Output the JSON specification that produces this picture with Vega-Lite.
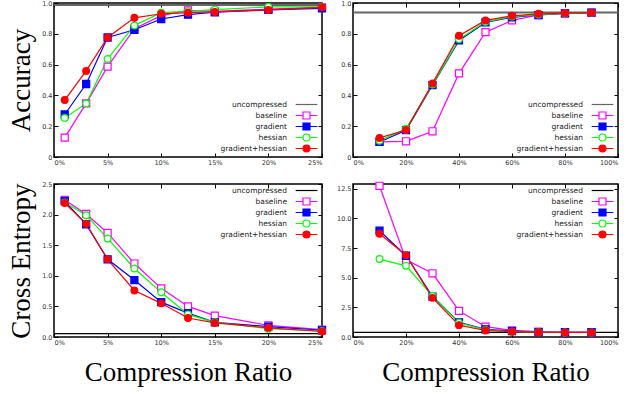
{
  "$schema": "https://vega.github.io/schema/vega-lite/v6.json",
  "padding": {"left": 6, "top": -1, "right": 0, "bottom": 0},
  "data": {"values": [
    {"p":"tl","s":"uncompressed","y":0.987},
    {"p":"tl","s":"baseline","x":1,"y":0.126},{"p":"tl","s":"baseline","x":3,"y":0.348},{"p":"tl","s":"baseline","x":5,"y":0.587},{"p":"tl","s":"baseline","x":7.5,"y":0.833},{"p":"tl","s":"baseline","x":10,"y":0.918},{"p":"tl","s":"baseline","x":12.5,"y":0.952},{"p":"tl","s":"baseline","x":15,"y":0.945},{"p":"tl","s":"baseline","x":20,"y":0.96},{"p":"tl","s":"baseline","x":25,"y":0.972},
    {"p":"tl","s":"gradient","x":1,"y":0.276},{"p":"tl","s":"gradient","x":3,"y":0.474},{"p":"tl","s":"gradient","x":5,"y":0.776},{"p":"tl","s":"gradient","x":7.5,"y":0.826},{"p":"tl","s":"gradient","x":10,"y":0.896},{"p":"tl","s":"gradient","x":12.5,"y":0.924},{"p":"tl","s":"gradient","x":15,"y":0.94},{"p":"tl","s":"gradient","x":20,"y":0.955},{"p":"tl","s":"gradient","x":25,"y":0.965},
    {"p":"tl","s":"hessian","x":1,"y":0.254},{"p":"tl","s":"hessian","x":3,"y":0.348},{"p":"tl","s":"hessian","x":5,"y":0.637},{"p":"tl","s":"hessian","x":7.5,"y":0.854},{"p":"tl","s":"hessian","x":10,"y":0.937},{"p":"tl","s":"hessian","x":12.5,"y":0.946},{"p":"tl","s":"hessian","x":15,"y":0.957},{"p":"tl","s":"hessian","x":20,"y":0.975},{"p":"tl","s":"hessian","x":25,"y":0.975},
    {"p":"tl","s":"gradient+hessian","x":1,"y":0.37},{"p":"tl","s":"gradient+hessian","x":3,"y":0.559},{"p":"tl","s":"gradient+hessian","x":5,"y":0.776},{"p":"tl","s":"gradient+hessian","x":7.5,"y":0.904},{"p":"tl","s":"gradient+hessian","x":10,"y":0.93},{"p":"tl","s":"gradient+hessian","x":12.5,"y":0.937},{"p":"tl","s":"gradient+hessian","x":15,"y":0.942},{"p":"tl","s":"gradient+hessian","x":20,"y":0.955},{"p":"tl","s":"gradient+hessian","x":25,"y":0.972},
    {"p":"tr","s":"uncompressed","y":0.939},
    {"p":"tr","s":"baseline","x":10,"y":0.098},{"p":"tr","s":"baseline","x":20,"y":0.102},{"p":"tr","s":"baseline","x":30,"y":0.167},{"p":"tr","s":"baseline","x":40,"y":0.543},{"p":"tr","s":"baseline","x":50,"y":0.811},{"p":"tr","s":"baseline","x":60,"y":0.887},{"p":"tr","s":"baseline","x":70,"y":0.922},{"p":"tr","s":"baseline","x":80,"y":0.932},{"p":"tr","s":"baseline","x":90,"y":0.937},
    {"p":"tr","s":"gradient","x":10,"y":0.098},{"p":"tr","s":"gradient","x":20,"y":0.174},{"p":"tr","s":"gradient","x":30,"y":0.467},{"p":"tr","s":"gradient","x":40,"y":0.757},{"p":"tr","s":"gradient","x":50,"y":0.874},{"p":"tr","s":"gradient","x":60,"y":0.907},{"p":"tr","s":"gradient","x":70,"y":0.922},{"p":"tr","s":"gradient","x":80,"y":0.932},{"p":"tr","s":"gradient","x":90,"y":0.937},
    {"p":"tr","s":"hessian","x":10,"y":0.105},{"p":"tr","s":"hessian","x":20,"y":0.183},{"p":"tr","s":"hessian","x":30,"y":0.47},{"p":"tr","s":"hessian","x":40,"y":0.765},{"p":"tr","s":"hessian","x":50,"y":0.878},{"p":"tr","s":"hessian","x":60,"y":0.912},{"p":"tr","s":"hessian","x":70,"y":0.925},{"p":"tr","s":"hessian","x":80,"y":0.932},{"p":"tr","s":"hessian","x":90,"y":0.937},
    {"p":"tr","s":"gradient+hessian","x":10,"y":0.124},{"p":"tr","s":"gradient+hessian","x":20,"y":0.175},{"p":"tr","s":"gradient+hessian","x":30,"y":0.478},{"p":"tr","s":"gradient+hessian","x":40,"y":0.787},{"p":"tr","s":"gradient+hessian","x":50,"y":0.887},{"p":"tr","s":"gradient+hessian","x":60,"y":0.917},{"p":"tr","s":"gradient+hessian","x":70,"y":0.93},{"p":"tr","s":"gradient+hessian","x":80,"y":0.934},{"p":"tr","s":"gradient+hessian","x":90,"y":0.937},
    {"p":"bl","s":"uncompressed","y":0.055},
    {"p":"bl","s":"baseline","x":1,"y":2.24},{"p":"bl","s":"baseline","x":3,"y":2.01},{"p":"bl","s":"baseline","x":5,"y":1.70},{"p":"bl","s":"baseline","x":7.5,"y":1.20},{"p":"bl","s":"baseline","x":10,"y":0.795},{"p":"bl","s":"baseline","x":12.5,"y":0.50},{"p":"bl","s":"baseline","x":15,"y":0.35},{"p":"bl","s":"baseline","x":20,"y":0.19},{"p":"bl","s":"baseline","x":25,"y":0.12},
    {"p":"bl","s":"gradient","x":1,"y":2.22},{"p":"bl","s":"gradient","x":3,"y":1.84},{"p":"bl","s":"gradient","x":5,"y":1.27},{"p":"bl","s":"gradient","x":7.5,"y":0.93},{"p":"bl","s":"gradient","x":10,"y":0.57},{"p":"bl","s":"gradient","x":12.5,"y":0.39},{"p":"bl","s":"gradient","x":15,"y":0.24},{"p":"bl","s":"gradient","x":20,"y":0.17},{"p":"bl","s":"gradient","x":25,"y":0.11},
    {"p":"bl","s":"hessian","x":1,"y":2.20},{"p":"bl","s":"hessian","x":3,"y":1.99},{"p":"bl","s":"hessian","x":5,"y":1.61},{"p":"bl","s":"hessian","x":7.5,"y":1.12},{"p":"bl","s":"hessian","x":10,"y":0.73},{"p":"bl","s":"hessian","x":12.5,"y":0.37},{"p":"bl","s":"hessian","x":15,"y":0.24},{"p":"bl","s":"hessian","x":20,"y":0.135},{"p":"bl","s":"hessian","x":25,"y":0.10},
    {"p":"bl","s":"gradient+hessian","x":1,"y":2.19},{"p":"bl","s":"gradient+hessian","x":3,"y":1.85},{"p":"bl","s":"gradient+hessian","x":5,"y":1.27},{"p":"bl","s":"gradient+hessian","x":7.5,"y":0.76},{"p":"bl","s":"gradient+hessian","x":10,"y":0.55},{"p":"bl","s":"gradient+hessian","x":12.5,"y":0.31},{"p":"bl","s":"gradient+hessian","x":15,"y":0.23},{"p":"bl","s":"gradient+hessian","x":20,"y":0.15},{"p":"bl","s":"gradient+hessian","x":25,"y":0.09},
    {"p":"br","s":"uncompressed","y":0.39},
    {"p":"br","s":"baseline","x":10,"y":12.75},{"p":"br","s":"baseline","x":20,"y":6.5},{"p":"br","s":"baseline","x":30,"y":5.37},{"p":"br","s":"baseline","x":40,"y":2.2},{"p":"br","s":"baseline","x":50,"y":0.87},{"p":"br","s":"baseline","x":60,"y":0.56},{"p":"br","s":"baseline","x":70,"y":0.45},{"p":"br","s":"baseline","x":80,"y":0.4},{"p":"br","s":"baseline","x":90,"y":0.4},
    {"p":"br","s":"gradient","x":10,"y":8.96},{"p":"br","s":"gradient","x":20,"y":6.85},{"p":"br","s":"gradient","x":30,"y":3.4},{"p":"br","s":"gradient","x":40,"y":1.24},{"p":"br","s":"gradient","x":50,"y":0.65},{"p":"br","s":"gradient","x":60,"y":0.5},{"p":"br","s":"gradient","x":70,"y":0.42},{"p":"br","s":"gradient","x":80,"y":0.4},{"p":"br","s":"gradient","x":90,"y":0.4},
    {"p":"br","s":"hessian","x":10,"y":6.57},{"p":"br","s":"hessian","x":20,"y":6.0},{"p":"br","s":"hessian","x":30,"y":3.46},{"p":"br","s":"hessian","x":40,"y":1.2},{"p":"br","s":"hessian","x":50,"y":0.6},{"p":"br","s":"hessian","x":60,"y":0.45},{"p":"br","s":"hessian","x":70,"y":0.4},{"p":"br","s":"hessian","x":80,"y":0.38},{"p":"br","s":"hessian","x":90,"y":0.38},
    {"p":"br","s":"gradient+hessian","x":10,"y":8.7},{"p":"br","s":"gradient+hessian","x":20,"y":6.9},{"p":"br","s":"gradient+hessian","x":30,"y":3.3},{"p":"br","s":"gradient+hessian","x":40,"y":1.0},{"p":"br","s":"gradient+hessian","x":50,"y":0.55},{"p":"br","s":"gradient+hessian","x":60,"y":0.45},{"p":"br","s":"gradient+hessian","x":70,"y":0.4},{"p":"br","s":"gradient+hessian","x":80,"y":0.38},{"p":"br","s":"gradient+hessian","x":90,"y":0.38}
  ]},
  "columns": 2,
  "bounds": "flush",
  "spacing": {"row": 27, "column": 31},
  "resolve": {
    "scale": {"stroke": "independent", "shape": "independent", "fill": "independent", "x": "independent", "y": "independent"},
    "legend": {"stroke": "independent", "shape": "independent", "fill": "independent"}
  },
  "concat": [
    {
      "width": 268, "height": 154,
      "resolve": {"axis": {"x": "independent", "y": "independent"}},
      "layer": [
        {"transform": [{"filter": "datum.p==='tl' && datum.s==='uncompressed'"}],
          "mark": {"type": "rule", "strokeWidth": 2},
          "encoding": {
            "y": {"field": "y", "type": "quantitative", "scale": {"domain": [0, 1], "nice": false},
              "axis": {"orient": "left", "title": "Accuracy", "values": [0, 0.2, 0.4, 0.6, 0.8, 1.0], "labelExpr": "datum.value === 0 ? '0' : format(datum.value, '.1f')"}},
            "stroke": {"field": "s", "type": "nominal",
              "scale": {"domain": ["uncompressed", "baseline", "gradient", "hessian", "gradient+hessian"], "range": ["#666666", "#ff00ff", "#0000ff", "#00ff00", "#ff0000"]},
              "legend": {"orient": "bottom-right", "title": null, "offset": 2, "labelAlign": "right", "labelOffset": -24, "symbolSize": 49, "symbolStrokeWidth": 1.2, "symbolOpacity": 1, "rowPadding": -2}}}},
        {"transform": [{"filter": "datum.p==='tl' && datum.s!=='uncompressed'"}],
          "mark": {"type": "line", "strokeWidth": 1.2},
          "encoding": {
            "x": {"field": "x", "type": "quantitative", "scale": {"domain": [0, 25], "nice": false},
              "axis": {"orient": "bottom", "title": null, "values": [0, 5, 10, 15, 20, 25], "labelExpr": "datum.value + '%'"}},
            "y": {"field": "y", "type": "quantitative", "scale": {"domain": [0, 1], "nice": false}, "axis": null},
            "stroke": {"field": "s", "type": "nominal"}}},
        {"transform": [{"filter": "datum.p==='tl' && (datum.s==='baseline' || datum.s==='gradient')"}],
          "mark": {"type": "point", "shape": "square", "size": 50, "strokeWidth": 1.2, "opacity": 1},
          "encoding": {
            "x": {"field": "x", "type": "quantitative", "axis": null},
            "y": {"field": "y", "type": "quantitative", "axis": null},
            "stroke": {"field": "s", "type": "nominal"},
            "fill": {"field": "s", "type": "nominal", "legend": null,
              "scale": {"domain": ["uncompressed", "baseline", "gradient", "hessian", "gradient+hessian"], "range": ["white", "white", "#0000ff", "white", "#ff0000"]}}}},
        {"transform": [{"filter": "datum.p==='tl' && (datum.s==='hessian' || datum.s==='gradient+hessian')"}],
          "mark": {"type": "point", "shape": "circle", "size": 45, "strokeWidth": 1.2, "opacity": 1},
          "encoding": {
            "x": {"field": "x", "type": "quantitative", "axis": null},
            "y": {"field": "y", "type": "quantitative", "axis": null},
            "stroke": {"field": "s", "type": "nominal"},
            "fill": {"field": "s", "type": "nominal", "legend": null}}},
        {"transform": [{"filter": "datum.p==='tl'"}],
          "mark": {"type": "point", "opacity": 0},
          "encoding": {
            "x": {"field": "x", "type": "quantitative", "axis": {"orient": "top", "title": null, "labels": false, "values": [0, 5, 10, 15, 20, 25]}},
            "y": {"field": "y", "type": "quantitative", "axis": {"orient": "right", "title": null, "labels": false, "values": [0, 0.2, 0.4, 0.6, 0.8, 1.0]}},
            "stroke": {"field": "s", "type": "nominal"},
            "shape": {"field": "s", "type": "nominal",
              "scale": {"domain": ["uncompressed", "baseline", "gradient", "hessian", "gradient+hessian"], "range": ["M-3.1,0H3.1M0,-1L0,-1M0,1L0,1", "M-3.1,0H-1M1,0H3.1M-1,-1H1V1H-1Z", "M-3.1,0H-1M1,0H3.1M-1,-1H1V1H-1Z", "M-3.1,0H-1M1,0H3.1M1,0A1,1,0,1,1,-1,0A1,1,0,1,1,1,0Z", "M-3.1,0H-1M1,0H3.1M1,0A1,1,0,1,1,-1,0A1,1,0,1,1,1,0Z"]},
              "legend": {"orient": "bottom-right", "title": null, "offset": 2, "labelAlign": "right", "labelOffset": -24, "symbolSize": 49, "symbolStrokeWidth": 1.2, "symbolOpacity": 1, "rowPadding": -2}},
            "fill": {"field": "s", "type": "nominal"}}}
      ]
    },
    {
      "width": 265, "height": 154,
      "resolve": {"axis": {"x": "independent", "y": "independent"}},
      "layer": [
        {"transform": [{"filter": "datum.p==='tr' && datum.s==='uncompressed'"}],
          "mark": {"type": "rule", "strokeWidth": 2},
          "encoding": {
            "y": {"field": "y", "type": "quantitative", "scale": {"domain": [0, 1], "nice": false},
              "axis": {"orient": "left", "title": null, "values": [0, 0.2, 0.4, 0.6, 0.8, 1.0], "labelExpr": "datum.value === 0 ? '0' : format(datum.value, '.1f')"}},
            "stroke": {"field": "s", "type": "nominal",
              "scale": {"domain": ["uncompressed", "baseline", "gradient", "hessian", "gradient+hessian"], "range": ["#666666", "#ff00ff", "#0000ff", "#00ff00", "#ff0000"]},
              "legend": {"orient": "bottom-right", "title": null, "offset": 2, "labelAlign": "right", "labelOffset": -24, "symbolSize": 49, "symbolStrokeWidth": 1.2, "symbolOpacity": 1, "rowPadding": -2}}}},
        {"transform": [{"filter": "datum.p==='tr' && datum.s!=='uncompressed'"}],
          "mark": {"type": "line", "strokeWidth": 1.2},
          "encoding": {
            "x": {"field": "x", "type": "quantitative", "scale": {"domain": [0, 100], "nice": false},
              "axis": {"orient": "bottom", "title": null, "values": [0, 20, 40, 60, 80, 100], "labelExpr": "datum.value + '%'"}},
            "y": {"field": "y", "type": "quantitative", "scale": {"domain": [0, 1], "nice": false}, "axis": null},
            "stroke": {"field": "s", "type": "nominal"}}},
        {"transform": [{"filter": "datum.p==='tr' && (datum.s==='baseline' || datum.s==='gradient')"}],
          "mark": {"type": "point", "shape": "square", "size": 50, "strokeWidth": 1.2, "opacity": 1},
          "encoding": {
            "x": {"field": "x", "type": "quantitative", "axis": null},
            "y": {"field": "y", "type": "quantitative", "axis": null},
            "stroke": {"field": "s", "type": "nominal"},
            "fill": {"field": "s", "type": "nominal", "legend": null,
              "scale": {"domain": ["uncompressed", "baseline", "gradient", "hessian", "gradient+hessian"], "range": ["white", "white", "#0000ff", "white", "#ff0000"]}}}},
        {"transform": [{"filter": "datum.p==='tr' && (datum.s==='hessian' || datum.s==='gradient+hessian')"}],
          "mark": {"type": "point", "shape": "circle", "size": 45, "strokeWidth": 1.2, "opacity": 1},
          "encoding": {
            "x": {"field": "x", "type": "quantitative", "axis": null},
            "y": {"field": "y", "type": "quantitative", "axis": null},
            "stroke": {"field": "s", "type": "nominal"},
            "fill": {"field": "s", "type": "nominal", "legend": null}}},
        {"transform": [{"filter": "datum.p==='tr'"}],
          "mark": {"type": "point", "opacity": 0},
          "encoding": {
            "x": {"field": "x", "type": "quantitative", "axis": {"orient": "top", "title": null, "labels": false, "values": [0, 20, 40, 60, 80, 100]}},
            "y": {"field": "y", "type": "quantitative", "axis": {"orient": "right", "title": null, "labels": false, "values": [0, 0.2, 0.4, 0.6, 0.8, 1.0]}},
            "stroke": {"field": "s", "type": "nominal"},
            "shape": {"field": "s", "type": "nominal",
              "scale": {"domain": ["uncompressed", "baseline", "gradient", "hessian", "gradient+hessian"], "range": ["M-3.1,0H3.1M0,-1L0,-1M0,1L0,1", "M-3.1,0H-1M1,0H3.1M-1,-1H1V1H-1Z", "M-3.1,0H-1M1,0H3.1M-1,-1H1V1H-1Z", "M-3.1,0H-1M1,0H3.1M1,0A1,1,0,1,1,-1,0A1,1,0,1,1,1,0Z", "M-3.1,0H-1M1,0H3.1M1,0A1,1,0,1,1,-1,0A1,1,0,1,1,1,0Z"]},
              "legend": {"orient": "bottom-right", "title": null, "offset": 2, "labelAlign": "right", "labelOffset": -24, "symbolSize": 49, "symbolStrokeWidth": 1.2, "symbolOpacity": 1, "rowPadding": -2}},
            "fill": {"field": "s", "type": "nominal"}}}
      ]
    },
    {
      "width": 268, "height": 153,
      "resolve": {"axis": {"x": "independent", "y": "independent"}},
      "layer": [
        {"transform": [{"filter": "datum.p==='bl' && datum.s==='uncompressed'"}],
          "mark": {"type": "rule", "strokeWidth": 1.3},
          "encoding": {
            "y": {"field": "y", "type": "quantitative", "scale": {"domain": [0, 2.5], "nice": false},
              "axis": {"orient": "left", "title": "Cross Entropy", "values": [0, 0.5, 1.0, 1.5, 2.0, 2.5], "format": ".1f"}},
            "stroke": {"field": "s", "type": "nominal",
              "scale": {"domain": ["uncompressed", "baseline", "gradient", "hessian", "gradient+hessian"], "range": ["#000000", "#ff00ff", "#0000ff", "#00ff00", "#ff0000"]},
              "legend": {"orient": "top-right", "title": null, "offset": 2, "labelAlign": "right", "labelOffset": -24, "symbolSize": 49, "symbolStrokeWidth": 1.2, "symbolOpacity": 1, "rowPadding": -2}}}},
        {"transform": [{"filter": "datum.p==='bl' && datum.s!=='uncompressed'"}],
          "mark": {"type": "line", "strokeWidth": 1.2},
          "encoding": {
            "x": {"field": "x", "type": "quantitative", "scale": {"domain": [0, 25], "nice": false},
              "axis": {"orient": "bottom", "title": "Compression Ratio", "values": [0, 5, 10, 15, 20, 25], "labelExpr": "datum.value + '%'"}},
            "y": {"field": "y", "type": "quantitative", "scale": {"domain": [0, 2.5], "nice": false}, "axis": null},
            "stroke": {"field": "s", "type": "nominal"}}},
        {"transform": [{"filter": "datum.p==='bl' && (datum.s==='baseline' || datum.s==='gradient')"}],
          "mark": {"type": "point", "shape": "square", "size": 50, "strokeWidth": 1.2, "opacity": 1},
          "encoding": {
            "x": {"field": "x", "type": "quantitative", "axis": null},
            "y": {"field": "y", "type": "quantitative", "axis": null},
            "stroke": {"field": "s", "type": "nominal"},
            "fill": {"field": "s", "type": "nominal", "legend": null,
              "scale": {"domain": ["uncompressed", "baseline", "gradient", "hessian", "gradient+hessian"], "range": ["white", "white", "#0000ff", "white", "#ff0000"]}}}},
        {"transform": [{"filter": "datum.p==='bl' && (datum.s==='hessian' || datum.s==='gradient+hessian')"}],
          "mark": {"type": "point", "shape": "circle", "size": 45, "strokeWidth": 1.2, "opacity": 1},
          "encoding": {
            "x": {"field": "x", "type": "quantitative", "axis": null},
            "y": {"field": "y", "type": "quantitative", "axis": null},
            "stroke": {"field": "s", "type": "nominal"},
            "fill": {"field": "s", "type": "nominal", "legend": null}}},
        {"transform": [{"filter": "datum.p==='bl'"}],
          "mark": {"type": "point", "opacity": 0},
          "encoding": {
            "x": {"field": "x", "type": "quantitative", "axis": {"orient": "top", "title": null, "labels": false, "values": [0, 5, 10, 15, 20, 25]}},
            "y": {"field": "y", "type": "quantitative", "axis": {"orient": "right", "title": null, "labels": false, "values": [0, 0.5, 1.0, 1.5, 2.0, 2.5]}},
            "stroke": {"field": "s", "type": "nominal"},
            "shape": {"field": "s", "type": "nominal",
              "scale": {"domain": ["uncompressed", "baseline", "gradient", "hessian", "gradient+hessian"], "range": ["M-3.1,0H3.1M0,-1L0,-1M0,1L0,1", "M-3.1,0H-1M1,0H3.1M-1,-1H1V1H-1Z", "M-3.1,0H-1M1,0H3.1M-1,-1H1V1H-1Z", "M-3.1,0H-1M1,0H3.1M1,0A1,1,0,1,1,-1,0A1,1,0,1,1,1,0Z", "M-3.1,0H-1M1,0H3.1M1,0A1,1,0,1,1,-1,0A1,1,0,1,1,1,0Z"]},
              "legend": {"orient": "top-right", "title": null, "offset": 2, "labelAlign": "right", "labelOffset": -24, "symbolSize": 49, "symbolStrokeWidth": 1.2, "symbolOpacity": 1, "rowPadding": -2}},
            "fill": {"field": "s", "type": "nominal"}}}
      ]
    },
    {
      "width": 265, "height": 153,
      "resolve": {"axis": {"x": "independent", "y": "independent"}},
      "layer": [
        {"transform": [{"filter": "datum.p==='br' && datum.s==='uncompressed'"}],
          "mark": {"type": "rule", "strokeWidth": 1.3},
          "encoding": {
            "y": {"field": "y", "type": "quantitative", "scale": {"domain": [0, 12.9], "nice": false},
              "axis": {"orient": "left", "title": null, "values": [0, 2.5, 5, 7.5, 10, 12.5], "format": ".1f"}},
            "stroke": {"field": "s", "type": "nominal",
              "scale": {"domain": ["uncompressed", "baseline", "gradient", "hessian", "gradient+hessian"], "range": ["#000000", "#ff00ff", "#0000ff", "#00ff00", "#ff0000"]},
              "legend": {"orient": "top-right", "title": null, "offset": 2, "labelAlign": "right", "labelOffset": -24, "symbolSize": 49, "symbolStrokeWidth": 1.2, "symbolOpacity": 1, "rowPadding": -2}}}},
        {"transform": [{"filter": "datum.p==='br' && datum.s!=='uncompressed'"}],
          "mark": {"type": "line", "strokeWidth": 1.2},
          "encoding": {
            "x": {"field": "x", "type": "quantitative", "scale": {"domain": [0, 100], "nice": false},
              "axis": {"orient": "bottom", "title": "Compression Ratio", "values": [0, 20, 40, 60, 80, 100], "labelExpr": "datum.value + '%'"}},
            "y": {"field": "y", "type": "quantitative", "scale": {"domain": [0, 12.9], "nice": false}, "axis": null},
            "stroke": {"field": "s", "type": "nominal"}}},
        {"transform": [{"filter": "datum.p==='br' && (datum.s==='baseline' || datum.s==='gradient')"}],
          "mark": {"type": "point", "shape": "square", "size": 50, "strokeWidth": 1.2, "opacity": 1},
          "encoding": {
            "x": {"field": "x", "type": "quantitative", "axis": null},
            "y": {"field": "y", "type": "quantitative", "axis": null},
            "stroke": {"field": "s", "type": "nominal"},
            "fill": {"field": "s", "type": "nominal", "legend": null,
              "scale": {"domain": ["uncompressed", "baseline", "gradient", "hessian", "gradient+hessian"], "range": ["white", "white", "#0000ff", "white", "#ff0000"]}}}},
        {"transform": [{"filter": "datum.p==='br' && (datum.s==='hessian' || datum.s==='gradient+hessian')"}],
          "mark": {"type": "point", "shape": "circle", "size": 45, "strokeWidth": 1.2, "opacity": 1},
          "encoding": {
            "x": {"field": "x", "type": "quantitative", "axis": null},
            "y": {"field": "y", "type": "quantitative", "axis": null},
            "stroke": {"field": "s", "type": "nominal"},
            "fill": {"field": "s", "type": "nominal", "legend": null}}},
        {"transform": [{"filter": "datum.p==='br'"}],
          "mark": {"type": "point", "opacity": 0},
          "encoding": {
            "x": {"field": "x", "type": "quantitative", "axis": {"orient": "top", "title": null, "labels": false, "values": [0, 20, 40, 60, 80, 100]}},
            "y": {"field": "y", "type": "quantitative", "axis": {"orient": "right", "title": null, "labels": false, "values": [0, 2.5, 5, 7.5, 10, 12.5]}},
            "stroke": {"field": "s", "type": "nominal"},
            "shape": {"field": "s", "type": "nominal",
              "scale": {"domain": ["uncompressed", "baseline", "gradient", "hessian", "gradient+hessian"], "range": ["M-3.1,0H3.1M0,-1L0,-1M0,1L0,1", "M-3.1,0H-1M1,0H3.1M-1,-1H1V1H-1Z", "M-3.1,0H-1M1,0H3.1M-1,-1H1V1H-1Z", "M-3.1,0H-1M1,0H3.1M1,0A1,1,0,1,1,-1,0A1,1,0,1,1,1,0Z", "M-3.1,0H-1M1,0H3.1M1,0A1,1,0,1,1,-1,0A1,1,0,1,1,1,0Z"]},
              "legend": {"orient": "top-right", "title": null, "offset": 2, "labelAlign": "right", "labelOffset": -24, "symbolSize": 49, "symbolStrokeWidth": 1.2, "symbolOpacity": 1, "rowPadding": -2}},
            "fill": {"field": "s", "type": "nominal"}}}
      ]
    }
  ],
  "config": {
    "view": {"stroke": "black", "strokeWidth": 1.5},
    "axis": {"domain": false, "grid": false, "tickSize": -4, "tickColor": "black", "tickWidth": 1,
      "labelFont": "DejaVu Sans", "labelFontSize": 6.5, "labelColor": "#333333", "labelPadding": 6,
      "titleFont": "Liberation Serif", "titleFontSize": 27, "titleFontWeight": "normal", "titleColor": "black"},
    "axisLeft": {"titlePadding": 6},
    "axisBottom": {"titlePadding": 14},
    "legend": {"labelFont": "DejaVu Sans", "labelFontSize": 7.5, "labelColor": "#222222", "padding": 0}
  }
}
